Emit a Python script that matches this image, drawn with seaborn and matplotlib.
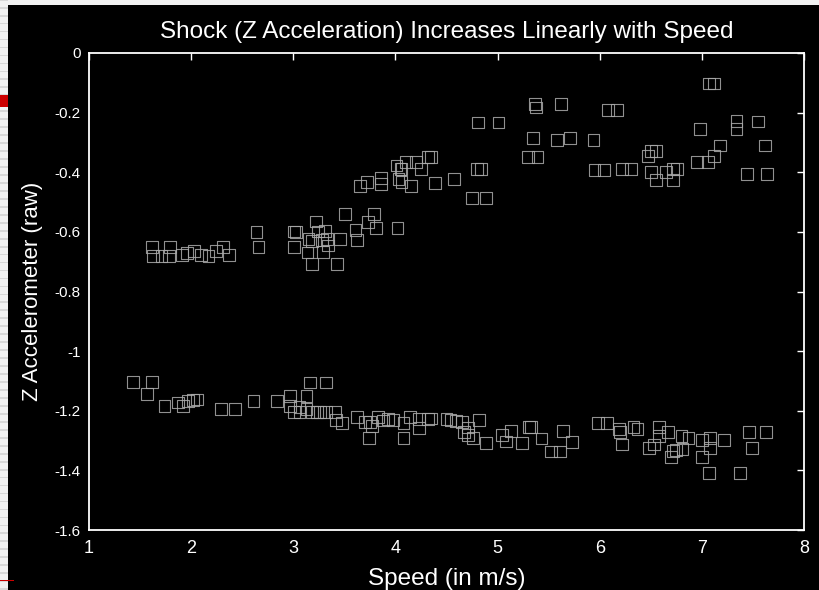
import numpy as np
import pandas as pd
import matplotlib
matplotlib.use("Agg")
import matplotlib.pyplot as plt
from matplotlib.patches import Rectangle
import seaborn as sns

# speed (m/s) and Z accelerometer readings, upper band
upper_speed = [1.62, 1.79, 1.63, 1.71, 1.78, 1.91, 1.96, 2.03, 2.10, 2.17, 2.24, 2.31, 2.37,
               2.64, 2.66, 3.01, 3.03, 3.01, 3.15, 3.18, 3.22, 3.24, 3.31, 3.28, 3.33, 3.34,
               3.29, 3.14, 3.18, 3.43, 3.46, 3.51, 3.61, 3.62, 3.73, 3.79, 3.81, 4.02,
               3.65, 3.72, 3.86, 3.86, 4.01, 4.03, 4.05, 4.06, 4.06, 4.10, 4.15, 4.20, 4.25,
               4.32, 4.35, 4.39, 4.57, 4.75, 4.89, 4.80, 4.84,
               4.81, 5.01, 5.37, 5.38, 5.62, 6.08, 6.17, 5.35, 5.58, 5.71, 5.94, 5.30, 5.39,
               5.95, 6.04, 6.22, 6.31, 6.47, 6.50, 6.55, 6.50, 6.55, 6.65, 6.72, 6.76, 6.72,
               6.95, 7.06, 7.12, 7.18, 6.98, 7.07, 7.12, 7.34, 7.34, 7.55, 7.62, 7.44, 7.64]
upper_accel = [-0.651, -0.651, -0.681, -0.681, -0.681, -0.677, -0.672, -0.663, -0.677, -0.682,
               -0.663, -0.651, -0.677,
               -0.601, -0.652, -0.599, -0.601, -0.650, -0.624, -0.630, -0.565, -0.599, -0.597,
               -0.627, -0.625, -0.646, -0.667, -0.669, -0.709, -0.709, -0.623, -0.541, -0.595,
               -0.626, -0.566, -0.541, -0.587, -0.587,
               -0.445, -0.433, -0.419, -0.439, -0.377, -0.422, -0.388, -0.433, -0.390, -0.366,
               -0.445, -0.366, -0.390, -0.350, -0.350, -0.437, -0.422, -0.487, -0.487, -0.390,
               -0.390,
               -0.233, -0.233, -0.172, -0.183, -0.172, -0.192, -0.192, -0.286, -0.293, -0.286,
               -0.293, -0.350, -0.350, -0.392, -0.392, -0.390, -0.390, -0.345, -0.329, -0.329,
               -0.400, -0.427, -0.400, -0.388, -0.388, -0.427, -0.366, -0.366, -0.345, -0.310,
               -0.256, -0.102, -0.102, -0.228, -0.256, -0.230, -0.310, -0.407, -0.407]

# lower band
lower_speed = [1.43, 1.62, 1.57, 1.74, 1.87, 1.92, 1.97, 2.02, 2.06, 2.29, 2.43, 2.61, 2.84,
               2.97, 3.13, 3.16, 3.32, 2.97, 3.01, 3.06, 3.06, 3.13, 3.18, 3.23, 3.26, 3.32,
               3.41, 3.42, 3.48, 3.62, 3.70, 3.75, 3.74, 3.77, 3.83, 3.88, 3.93, 3.98, 4.08,
               4.08, 4.14, 4.23, 4.23, 4.32, 4.35, 4.50, 4.54, 4.59, 4.65, 4.67, 4.71, 4.71,
               4.76, 4.82, 4.89, 5.04, 5.08, 5.13, 5.24, 5.31, 5.33, 5.43, 5.52, 5.61, 5.64,
               5.73, 5.98, 6.07, 6.19, 6.20, 6.22, 6.33, 6.37, 6.48, 6.53, 6.58, 6.58, 6.67,
               6.70, 6.72, 6.75, 6.81, 6.80, 6.87, 7.00, 7.00, 7.08, 7.08, 7.07, 7.22, 7.37,
               7.46, 7.49, 7.63]
lower_accel = [-1.103, -1.103, -1.144, -1.185, -1.172, -1.184, -1.166, -1.163, -1.162, -1.194,
               -1.194, -1.166, -1.166, -1.150, -1.150, -1.105, -1.105, -1.184, -1.203, -1.187,
               -1.203, -1.193, -1.203, -1.205, -1.203, -1.205, -1.203, -1.231, -1.240, -1.222,
               -1.239, -1.239, -1.291, -1.251, -1.222, -1.233, -1.227, -1.231, -1.240, -1.291,
               -1.222, -1.227, -1.257, -1.227, -1.226, -1.228, -1.230, -1.235, -1.239, -1.272,
               -1.256, -1.281, -1.292, -1.230, -1.309, -1.281, -1.303, -1.269, -1.309, -1.255,
               -1.255, -1.293, -1.337, -1.337, -1.269, -1.304, -1.241, -1.241, -1.262, -1.270,
               -1.313, -1.255, -1.261, -1.324, -1.313, -1.255, -1.284, -1.270, -1.356, -1.335,
               -1.332, -1.329, -1.284, -1.292, -1.298, -1.356, -1.292, -1.326, -1.409, -1.298,
               -1.409, -1.272, -1.326, -1.272]

x_ticks = [1, 2, 3, 4, 5, 6, 7, 8]
y_ticks = [0, -0.2, -0.4, -0.6, -0.8, -1, -1.2, -1.4, -1.6]
y_tick_labels = ["0", "-0.2", "-0.4", "-0.6", "-0.8", "-1", "-1.2", "-1.4", "-1.6"]

df = pd.DataFrame({
    "speed": upper_speed + lower_speed,
    "accel": upper_accel + lower_accel,
})

sns.set_style("dark")
plt.rcParams["font.family"] = ["Liberation Sans", "DejaVu Sans"]

fig = plt.figure(figsize=(8.19, 5.9), dpi=100)
fig.patch.set_facecolor("#f2f2f2")
# slide background strip on the left, black chart area behind the axes
for yy in np.arange(0.0, 1.0, 0.0135):
    fig.add_artist(Rectangle((0, yy), 8 / 819, 0.003, transform=fig.transFigure,
                             color="#d8d8d8", lw=0, zorder=-5))
fig.add_artist(Rectangle((0, 1 - 107 / 590), 8 / 819, 12 / 590, transform=fig.transFigure,
                         color="#cc0000", lw=0, zorder=-4))
fig.add_artist(Rectangle((8 / 819, 0), 1 - 8 / 819, 1 - 5 / 590, transform=fig.transFigure,
                         color="black", lw=0, zorder=-3))
fig.add_artist(Rectangle((0, 9 / 590), 14 / 819, 1.5 / 590, transform=fig.transFigure,
                         color="#cc0000", lw=0, zorder=-2))

ax = fig.add_axes([89 / 819, 60 / 590, 715 / 819, 477 / 590])
ax.set_facecolor("black")

sns.scatterplot(data=df, x="speed", y="accel", marker="s", s=72,
                facecolor="none", edgecolor="#aaaaaa", linewidth=0.8, alpha=0.85, ax=ax)

ax.set_xlim(1, 8)
ax.set_ylim(-1.6, 0)
ax.set_xticks(x_ticks)
ax.set_yticks(y_ticks)
ax.set_yticklabels(y_tick_labels)
ax.grid(False)

for sp in ax.spines.values():
    sp.set_visible(True)
    sp.set_color("white")
    sp.set_linewidth(1.3)

ax.tick_params(direction="in", length=5, width=1, color="white", labelcolor="white",
               top=True, right=True, pad=6)
ax.tick_params(axis="y", labelsize=11)
ax.tick_params(axis="x", labelsize=13, pad=7)

ax.set_title("Shock (Z Acceleration) Increases Linearly with Speed", color="white",
             fontsize=17.5, pad=11)
ax.set_xlabel("Speed (in m/s)", color="white", fontsize=17.5, labelpad=8)
ax.set_ylabel("Z Accelerometer (raw)", color="white", fontsize=16, labelpad=8)

fig.savefig("out.png", dpi=100, facecolor=fig.get_facecolor())
